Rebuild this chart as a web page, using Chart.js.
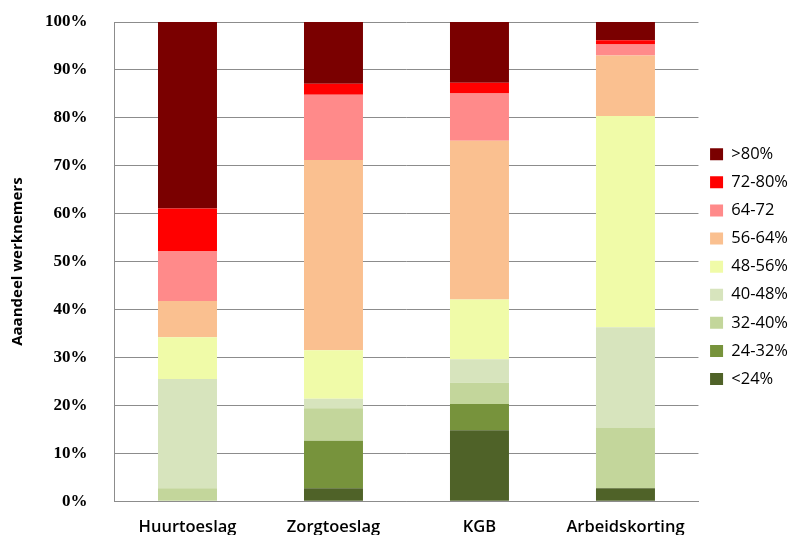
<!DOCTYPE html>
<html>
<head>
<meta charset="utf-8">
<script src="https://cdn.jsdelivr.net/npm/chart.js@4"></script>
<style>
  html, body { margin: 0; padding: 0; background: #fff; }
  #wrap { width: 792px; height: 535px; }
</style>
</head>
<body>
<div id="wrap"><canvas id="chart" width="792" height="535"></canvas></div>
<script>
// categories and tick labels
const categories = ["Huurtoeslag", "Zorgtoeslag", "KGB", "Arbeidskorting"];
const yTicks = [0, 10, 20, 30, 40, 50, 60, 70, 80, 90, 100];

// series: share of employees (%) per band, bottom to top
const lt24   = [0,    2.7,  14.8, 2.7];
const s24_32 = [0,    9.9,  5.5,  0];
const s32_40 = [2.7,  6.8,  4.4,  12.6];
const s40_48 = [22.8, 2.0,  4.9,  21.0];
const s48_56 = [8.7,  10.1, 12.5, 44.1];
const s56_64 = [7.6,  39.7, 33.1, 12.6];
const s64_72 = [10.4, 13.6, 9.9,  2.3];
const s72_80 = [8.9,  2.3,  2.2,  0.9];
const gt80   = [38.9, 12.9, 12.7, 3.8];

const seriesNames = ["<24%", "24-32%", "32-40%", "40-48%", "48-56%", "56-64%", "64-72", "72-80%", ">80%"];
const seriesData = [lt24, s24_32, s32_40, s40_48, s48_56, s56_64, s64_72, s72_80, gt80];
const seriesColors = ["#4f6228", "#77933c", "#c3d69b", "#d7e4bd", "#f0fba8", "#fac090", "#ff8a8a", "#ff0000", "#7a0000"];

const datasets = seriesNames.map((name, i) => ({
  label: name,
  data: seriesData[i],
  backgroundColor: seriesColors[i],
  borderWidth: 0,
  barPercentage: 0.404,
  categoryPercentage: 1.0
}));

const ctx = document.getElementById("chart").getContext("2d");
new Chart(ctx, {
  type: "bar",
  data: { labels: categories, datasets },
  options: {
    responsive: false,
    animation: false,
    layout: { padding: { left: 9, top: 22, right: -6, bottom: -18 } },
    plugins: {
      tooltip: { enabled: false },
      legend: {
        position: "right",
        align: "start",
        reverse: true,
        // blank title only pushes the items down
        title: { display: true, text: " ", padding: { top: 98, bottom: 0 }, font: { size: 12 } },
        labels: {
          boxWidth: 13,
          boxHeight: 12,
          padding: 11.6,
          color: "#000",
          font: { family: "Open Sans", size: 16.5 }
        }
      }
    },
    scales: {
      x: {
        stacked: true,
        grid: { display: false, drawTicks: false },
        border: { color: "#8c8c8c", width: 1 },
        ticks: {
          color: "#000",
          padding: 16,
          font: { family: "Open Sans", size: 16.5, weight: "600" }
        }
      },
      y: {
        stacked: true,
        min: 0,
        max: 100,
        afterBuildTicks: (axis) => { axis.ticks = yTicks.map(v => ({ value: v })); },
        // invisible tick marks give the gap between labels and axis
        grid: { color: "#8c8c8c", drawTicks: true, tickLength: 24, tickColor: "rgba(0,0,0,0)" },
        border: { color: "#8c8c8c", width: 1 },
        ticks: {
          color: "#000",
          padding: 3,
          font: { family: "Liberation Serif", size: 17, weight: "bold" },
          callback: (v) => v + "%"
        },
        title: {
          display: true,
          text: "Aaandeel werknemers",
          color: "#000",
          padding: { top: 0, bottom: 15 },
          font: { family: "Open Sans", size: 15, weight: "bold" }
        }
      }
    }
  }
});
</script>
</body>
</html>
